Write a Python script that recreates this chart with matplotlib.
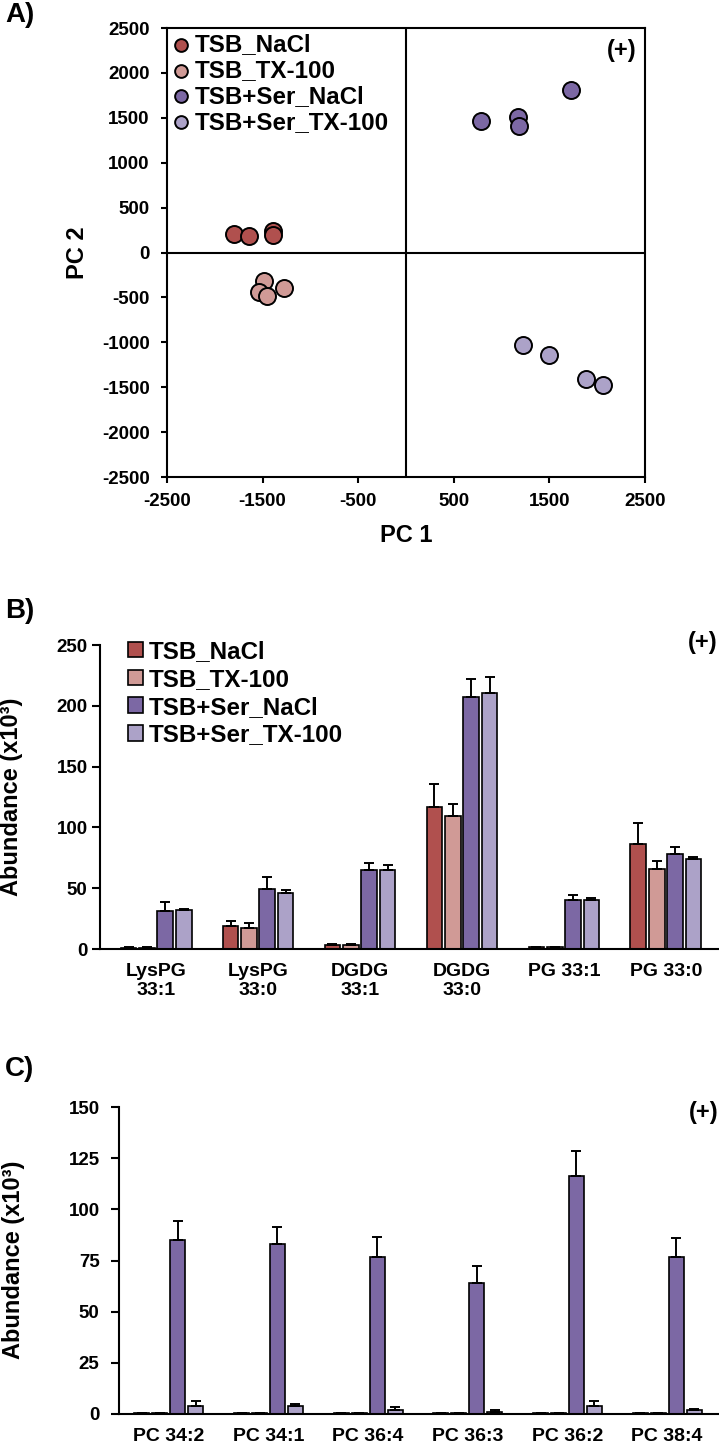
import matplotlib
matplotlib.use('Agg')
import matplotlib.pyplot as plt
import numpy as np

plt.rcParams['font.family'] = ['Liberation Sans', 'DejaVu Sans']
plt.rcParams['font.weight'] = 'bold'
plt.rcParams['axes.labelweight'] = 'bold'
plt.rcParams['axes.unicode_minus'] = False

# ---------------- data ----------------
groups = ['TSB_NaCl', 'TSB_TX-100', 'TSB+Ser_NaCl', 'TSB+Ser_TX-100']
colors = ['#B0504E', '#D09A96', '#7C68A4', '#ACA2C8']

# Panel A: PCA scores
pc1_nacl = [-1800, -1640, -1390, -1390]
pc2_nacl = [205, 180, 240, 200]
pc1_tx = [-1490, -1540, -1450, -1280]
pc2_tx = [-320, -440, -480, -400]
pc1_ser_nacl = [780, 1170, 1180, 1730]
pc2_ser_nacl = [1460, 1505, 1410, 1815]
pc1_ser_tx = [1225, 1500, 1880, 2065]
pc2_ser_tx = [-1025, -1145, -1410, -1480]

# Panel B
lipids_b = ['LysPG\n33:1', 'LysPG\n33:0', 'DGDG\n33:1', 'DGDG\n33:0', 'PG 33:1', 'PG 33:0']
b_nacl = [1.0, 19.2, 3.3, 116.8, 1.5, 86.3]
b_nacl_err = [0.3, 4.1, 0.5, 18.9, 0.3, 17.6]
b_tx = [1.0, 17.5, 3.3, 109.6, 1.5, 65.5]
b_tx_err = [0.3, 3.6, 0.5, 9.4, 0.3, 7.1]
b_ser_nacl = [31.5, 49.3, 65.2, 207.5, 40.6, 77.9]
b_ser_nacl_err = [6.9, 10.2, 5.8, 14.5, 3.4, 6.0]
b_ser_tx = [32.0, 46.0, 65.2, 210.8, 40.6, 74.0]
b_ser_tx_err = [1.0, 2.8, 3.8, 12.6, 1.4, 1.9]

# Panel C
lipids_c = ['PC 34:2', 'PC 34:1', 'PC 36:4', 'PC 36:3', 'PC 36:2', 'PC 38:4']
c_nacl = [0.5, 0.5, 0.5, 0.5, 0.5, 0.5]
c_nacl_err = [0.0, 0.0, 0.0, 0.0, 0.0, 0.0]
c_tx = [0.5, 0.5, 0.5, 0.5, 0.5, 0.5]
c_tx_err = [0.0, 0.0, 0.0, 0.0, 0.0, 0.0]
c_ser_nacl = [85.0, 83.0, 76.7, 63.9, 116.4, 76.7]
c_ser_nacl_err = [9.3, 8.5, 9.6, 8.6, 12.1, 9.5]
c_ser_tx = [4.0, 4.0, 2.0, 1.0, 4.0, 2.0]
c_ser_tx_err = [2.5, 1.0, 1.4, 1.0, 2.2, 0.6]

# ---------------- layout helpers ----------------
W, H = 719, 1447
fig = plt.figure(figsize=(W / 100, H / 100), dpi=100)


def fx(px):
    return px / W


def fy(py):
    return 1 - py / H


LW = 1.5

# ---------------- Panel A ----------------
axA = fig.add_axes([fx(167), fy(477), 478 / W, 449 / H])
pts = [(pc1_nacl, pc2_nacl), (pc1_tx, pc2_tx), (pc1_ser_nacl, pc2_ser_nacl), (pc1_ser_tx, pc2_ser_tx)]
for (xs, ys), c, g in zip(pts, colors, groups):
    axA.scatter(xs, ys, s=150, color=c, edgecolor='black', linewidth=1.4, label=g, zorder=3)
axA.axhline(0, color='black', lw=LW, zorder=1)
axA.axvline(0, color='black', lw=LW, zorder=1)
axA.set_xlim(-2500, 2500)
axA.set_ylim(-2500, 2500)
axA.set_xticks(np.arange(-2500, 2501, 1000))
axA.set_yticks(np.arange(-2500, 2501, 500))
for s in axA.spines.values():
    s.set_linewidth(LW)
axA.tick_params(axis='both', direction='out', length=4.5, width=LW, labelsize=13.5)
axA.tick_params(axis='y', pad=8)
axA.tick_params(axis='x', pad=7)
for lab in axA.get_xticklabels() + axA.get_yticklabels():
    lab.set_fontweight('bold')
legA = axA.legend(loc='upper left', bbox_to_anchor=(fx(174), fy(33)), bbox_transform=fig.transFigure,
                  frameon=False, fontsize=17.4, handlelength=0.6, handletextpad=0.25,
                  labelspacing=0.12, borderpad=0, borderaxespad=0, scatterpoints=1, markerscale=0.75)
for t in legA.get_texts():
    t.set_fontweight('bold')
fig.text(fx(622), fy(50), '(+)', fontsize=17, fontweight='bold', ha='center', va='center')
fig.text(fx(406), fy(536), 'PC 1', fontsize=17, fontweight='bold', ha='center', va='center')
fig.text(fx(78), fy(253), 'PC 2', fontsize=17, fontweight='bold', ha='center', va='center', rotation=90)
fig.text(fx(5), fy(15), 'A)', fontsize=20, fontweight='bold', ha='left', va='center')


def bar_panel(ax, cats, series, errs, pitch, width):
    x = np.arange(len(cats))
    offsets = (np.arange(4) - 1.5) * pitch
    for i in range(4):
        ax.bar(x + offsets[i], series[i], width=width, color=colors[i], edgecolor='black',
               linewidth=1.2, label=groups[i], zorder=2)
        ax.errorbar(x + offsets[i], series[i], yerr=[np.zeros(len(cats)), errs[i]], fmt='none',
                    ecolor='black', elinewidth=1.4, capsize=3.8, capthick=1.4, zorder=3)
    ax.set_xticks(x)
    ax.set_xticklabels(cats, fontweight='bold')
    ax.spines['top'].set_visible(False)
    ax.spines['right'].set_visible(False)
    ax.spines['left'].set_linewidth(LW)
    ax.spines['bottom'].set_linewidth(LW)


# ---------------- Panel B ----------------
axB = fig.add_axes([fx(100), fy(949), 622 / W, 304 / H])
bar_panel(axB, lipids_b, [b_nacl, b_tx, b_ser_nacl, b_ser_tx],
          [b_nacl_err, b_tx_err, b_ser_nacl_err, b_ser_tx_err], 0.18, 0.155)
axB.set_xlim(-0.55, 5.55)
axB.set_ylim(0, 250)
axB.set_yticks(np.arange(0, 251, 50))
axB.tick_params(axis='y', direction='out', length=5.5, width=LW, labelsize=13.5, pad=3.5)
axB.tick_params(axis='x', length=0, labelsize=14, pad=10)
for lab in axB.get_yticklabels():
    lab.set_fontweight('bold')
legB = axB.legend(loc='upper left', bbox_to_anchor=(fx(128), fy(640)), bbox_transform=fig.transFigure,
                  frameon=False, fontsize=17.4, handlelength=0.6, handleheight=0.6, handletextpad=0.25,
                  labelspacing=0.2, borderpad=0, borderaxespad=0)
for t in legB.get_texts():
    t.set_fontweight('bold')
fig.text(fx(5), fy(611), 'B)', fontsize=20, fontweight='bold', ha='left', va='center')
fig.text(fx(703), fy(643), '(+)', fontsize=17, fontweight='bold', ha='center', va='center')
fig.text(fx(12), fy(797), 'Abundance (x10³)', fontsize=17, fontweight='bold', ha='center',
         va='center', rotation=90)

# ---------------- Panel C ----------------
axC = fig.add_axes([fx(119), fy(1414), 600 / W, 307 / H])
bar_panel(axC, lipids_c, [c_nacl, c_tx, c_ser_nacl, c_ser_tx],
          [c_nacl_err, c_tx_err, c_ser_nacl_err, c_ser_tx_err], 0.18, 0.15)
axC.set_xlim(-0.5, 5.52)
axC.set_ylim(0, 150)
axC.set_yticks(np.arange(0, 151, 25))
axC.tick_params(axis='y', direction='out', length=6, width=LW, labelsize=13.5, pad=8)
axC.tick_params(axis='x', length=0, labelsize=14, pad=10)
for lab in axC.get_yticklabels():
    lab.set_fontweight('bold')
fig.text(fx(5), fy(1069), 'C)', fontsize=20, fontweight='bold', ha='left', va='center')
fig.text(fx(704), fy(1112), '(+)', fontsize=17, fontweight='bold', ha='center', va='center')
fig.text(fx(14), fy(1260), 'Abundance (x10³)', fontsize=17, fontweight='bold', ha='center',
         va='center', rotation=90)

fig.savefig('out.png', dpi=100)
